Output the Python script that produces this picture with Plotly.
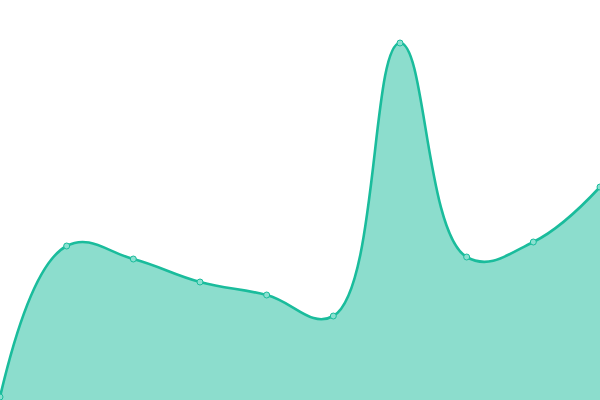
import plotly.graph_objects as go

labels = ["A", "B", "C", "D", "E", "F", "G", "H", "I", "J"]
values = [3, 154, 141, 118, 105, 84, 357, 143, 158, 213]

xs = list(range(len(values)))

fig = go.Figure()
fig.add_trace(go.Scatter(
    x=xs, y=values,
    mode="lines+markers",
    line=dict(color="#1abc9c", width=2.6, shape="spline", smoothing=1.2),
    fill="tozeroy",
    fillcolor="rgba(26,188,156,0.5)",
    marker=dict(size=6, color="#8ae0d0", line=dict(color="#1abc9c", width=1)),
    text=labels,
    hoverinfo="text+y",
))
fig.update_layout(
    width=600, height=400,
    margin=dict(l=0, r=0, t=0, b=0),
    paper_bgcolor="white", plot_bgcolor="white",
    showlegend=False,
    xaxis=dict(range=[0, len(values) - 1], visible=False, fixedrange=True),
    yaxis=dict(range=[0, 400], visible=False, fixedrange=True),
)
fig.write_html(
    "out.html",
    config={"displayModeBar": False},
    post_script="document.body.style.margin='0';document.body.style.overflow='hidden';",
)
